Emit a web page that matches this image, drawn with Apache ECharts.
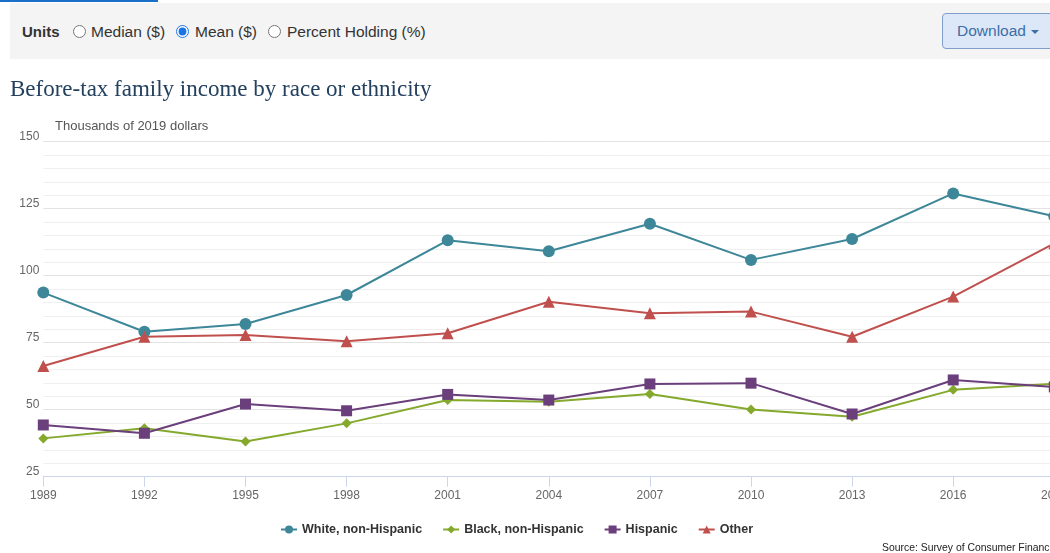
<!DOCTYPE html>
<html><head><meta charset="utf-8">
<script src="https://cdn.jsdelivr.net/npm/echarts@6/dist/echarts.min.js"></script>
<style>
html,body{margin:0;padding:0;width:1050px;height:553px;overflow:hidden;background:#fff;font-family:"Liberation Sans",Arial,sans-serif;}
#chart{position:absolute;left:0;top:0;width:1100px;height:553px;}
#tab{position:absolute;left:0;top:0;width:158px;height:2px;background:#1a6fc9;z-index:3}
#bar{position:absolute;left:10px;top:3px;width:1080px;height:56px;background:#f4f4f4;z-index:2}
.t{position:absolute;top:1px;line-height:56px;font-size:15.5px;color:#333;white-space:nowrap}
.r{position:absolute;top:22px;width:13px;height:13px;margin:0;accent-color:#1a73e8}
#dl{position:absolute;left:932px;top:10px;width:130px;height:34px;border:1px solid #7f9fca;border-radius:4px;background:#dce8f8;}
#dl span{position:absolute;left:14px;top:0;line-height:34px;font-size:15.5px;color:#3d6ea6}
#caret{position:absolute;left:89px;top:16px;width:0;height:0;border-left:4px solid transparent;border-right:4px solid transparent;border-top:4px solid #3d6ea6}
</style></head>
<body>
<div id="chart"></div>
<div id="tab"></div>
<div id="bar">
  <span class="t" style="left:12px;font-weight:bold;font-size:15px">Units</span>
  <input class="r" type="radio" name="u" style="left:63px">
  <span class="t" style="left:81px">Median ($)</span>
  <input class="r" type="radio" name="u" style="left:166px" checked>
  <span class="t" style="left:185px">Mean ($)</span>
  <input class="r" type="radio" name="u" style="left:258px">
  <span class="t" style="left:277px">Percent Holding (%)</span>
  <div id="dl"><span>Download</span><div id="caret" style="left:88px"></div></div>
</div>
<script>
const years = ['1989','1992','1995','1998','2001','2004','2007','2010','2013','2016','2019'];
const white    = [93.7, 79.1, 82.0, 92.8, 113.2, 109.1, 119.4, 105.9, 113.7, 130.7, 122.2];
const black    = [39.3, 43.1, 38.1, 44.9, 53.6, 53.0, 55.9, 50.1, 47.4, 57.4, 59.7];
const hispanic = [44.3, 41.2, 52.1, 49.6, 55.7, 53.6, 59.6, 59.9, 48.4, 61.1, 58.5];
const other    = [66.3, 77.2, 77.9, 75.5, 78.5, 90.3, 86.0, 86.6, 77.2, 92.2, 112.1];
const seriesNames = ['White, non-Hispanic', 'Black, non-Hispanic', 'Hispanic', 'Other'];
const yMin = 25, yMax = 150, yStep = 25;
const titleText = 'Before-tax family income by race or ethnicity';
const unitText = 'Thousands of 2019 dollars';
const sourceText = 'Source: Survey of Consumer Finances';

const colors = ['#3d8799', '#84a92c', '#6a3f7b', '#c0504d'];
const symbols = ['circle', 'diamond', 'rect', 'triangle'];
const sizes = [12, 10, 11, 12];
const dataSets = [white, black, hispanic, other];

const chart = echarts.init(document.getElementById('chart'), null, {renderer: 'canvas'});
chart.setOption({
  animation: false,
  title: {
    text: titleText, left: 10, top: 78, padding: 0,
    textStyle: {fontFamily: '"Liberation Serif", serif', fontSize: 23, fontWeight: 'normal', color: '#23405f'}
  },
  graphic: [
    {type: 'text', x: 55, y: 126, style: {text: unitText, font: '13px "Liberation Sans", Arial', fill: '#555', verticalAlign: 'middle'}},
    {type: 'text', x: 882, y: 548, style: {text: sourceText, font: '10.4px "Liberation Sans", Arial', fill: '#222', verticalAlign: 'middle'}}
  ],
  legend: {
    left: 280, top: 523, padding: 0, itemWidth: 16, itemHeight: 10, itemGap: 20,
    textStyle: {fontFamily: '"Liberation Sans", Arial', fontSize: 12.5, fontWeight: 'bold', color: '#333'},
    data: seriesNames
  },
  grid: {left: 43.3, right: 45.7, top: 141.7, bottom: 76.3, containLabel: false},
  xAxis: {
    type: 'category', data: years, boundaryGap: false,
    axisLine: {lineStyle: {color: '#ccd6eb', width: 1}},
    axisTick: {show: true, length: 10, lineStyle: {color: '#ccd6eb'}},
    axisLabel: {color: '#666', fontSize: 12, margin: 13, fontFamily: '"Liberation Sans", Arial'},
    splitLine: {show: false}
  },
  yAxis: {
    type: 'value', min: yMin, max: yMax, interval: yStep,
    axisLine: {show: false}, axisTick: {show: false},
    axisLabel: {color: '#666', fontSize: 12, margin: 4, verticalAlign: 'bottom', lineHeight: 10, fontFamily: '"Liberation Sans", Arial'},
    splitLine: {lineStyle: {color: '#e3e3e3'}},
    minorTick: {show: false, splitNumber: 5},
    minorSplitLine: {show: true, lineStyle: {color: '#efefef'}}
  },
  series: seriesNames.map((n, i) => ({
    name: n, type: 'line', data: dataSets[i],
    symbol: symbols[i], symbolSize: sizes[i], showSymbol: true,
    lineStyle: {width: 2, color: colors[i]},
    itemStyle: {color: colors[i]},
    emphasis: {disabled: true}
  }))
});
</script>
</body></html>
